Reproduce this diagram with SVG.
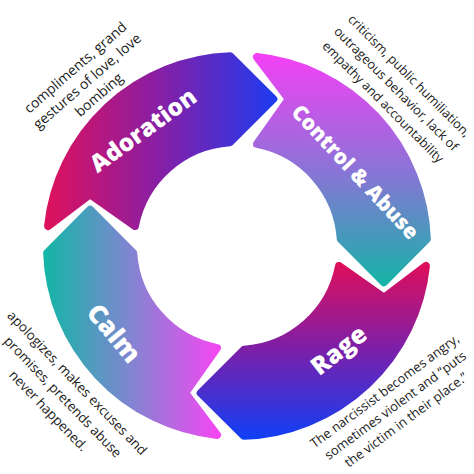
<svg xmlns="http://www.w3.org/2000/svg" width="474" height="474" viewBox="0 0 474 474">
<style>
.seg{stroke-width:8;stroke-linejoin:round}
.lbl{font-family:"Open Sans","Liberation Sans",sans-serif;font-weight:800;fill:#fff;text-anchor:middle}
.note{font-family:"Open Sans","Liberation Sans",sans-serif;font-size:13.4px;fill:#1a1a1a;text-anchor:middle}
</style>
<defs>
<linearGradient id="gAdo" gradientUnits="userSpaceOnUse" x1="42" y1="0" x2="280" y2="0">
<stop offset="0" stop-color="#e0115a"/><stop offset="0.5" stop-color="#861fa6"/><stop offset="1" stop-color="#1a3cf2"/>
</linearGradient>
<linearGradient id="gCtl" gradientUnits="userSpaceOnUse" x1="0" y1="52" x2="0" y2="290">
<stop offset="0" stop-color="#f63ff6"/><stop offset="0.5" stop-color="#8a74d6"/><stop offset="1" stop-color="#10b7a4"/>
</linearGradient>
<linearGradient id="gRage" gradientUnits="userSpaceOnUse" x1="0" y1="262" x2="0" y2="440">
<stop offset="0" stop-color="#e00e5a"/><stop offset="0.5" stop-color="#7a20aa"/><stop offset="1" stop-color="#0f3ff6"/>
</linearGradient>
<linearGradient id="gCalm" gradientUnits="userSpaceOnUse" x1="42" y1="0" x2="222" y2="0">
<stop offset="0" stop-color="#10b7a5"/><stop offset="0.5" stop-color="#8384d2"/><stop offset="1" stop-color="#f845f3"/>
</linearGradient>
</defs>
<rect width="474" height="474" fill="#fff"/>
<g id="adoration">
<path class="seg" fill="url(#gAdo)" stroke="url(#gAdo)" d="M48.06,226 A190,190 0 0 1 230,56.13 L273.3,99 L230,142.24 A104,104 0 0 0 134.94,226 L90,194.2 Z"/>
<text class="lbl" font-size="24" transform="translate(148,137) rotate(-36)">Adoration</text>
</g>
<g id="control-abuse">
<path class="seg" fill="url(#gCtl)" stroke="url(#gCtl)" d="M257,57.06 A190,190 0 0 1 426.87,239 L384,282.3 L340.76,239 A104,104 0 0 0 257,143.94 L288.8,99 Z"/>
<text class="lbl" font-size="21" transform="translate(350,177) rotate(47)">Control &amp; Abuse</text>
</g>
<g id="rage">
<path class="seg" fill="url(#gRage)" stroke="url(#gRage)" d="M425.94,266 A190,190 0 0 1 244,435.87 L200.7,393 L244,349.76 A104,104 0 0 0 339.06,266 L384,297.8 Z"/>
<text class="lbl" font-size="25" transform="translate(344,357) rotate(-38)">Rage</text>
</g>
<g id="calm">
<path class="seg" fill="url(#gCalm)" stroke="url(#gCalm)" d="M217,434.94 A190,190 0 0 1 47.13,253 L90,209.7 L133.24,253 A104,104 0 0 0 217,348.06 L185.2,393 Z"/>
<text class="lbl" font-size="26" transform="translate(107,339) rotate(50)">Calm</text>
</g>
<g id="note-adoration" class="note" transform="translate(90.3,84.8) rotate(-41)" style="font-size:14px">
<text x="0" y="-18">compliments, grand</text>
<text x="0" y="0">gestures of love, love</text>
<text x="0" y="18">bombing</text>
</g>
<g id="note-control" class="note" transform="translate(393,92) rotate(45)" style="font-size:12.8px">
<text x="0" y="-18.5">criticism, public humiliation,</text>
<text x="0" y="0">outrageous behavior, lack of</text>
<text x="0" y="18.5">empathy and accountability</text>
</g>
<g id="note-calm" class="note" transform="translate(59.5,400) rotate(46)">
<text x="0" y="-20">apologizes, makes excuses and</text>
<text x="0" y="0">promises, pretends abuse</text>
<text x="0" y="20">never happened.</text>
</g>
<g id="note-rage" class="note" transform="translate(398,409) rotate(-36.5)" style="font-size:13px">
<text x="0" y="-18">The narcissist becomes angry,</text>
<text x="0" y="0">sometimes violent and “puts</text>
<text x="0" y="18">the victim in their place.”</text>
</g>
<g id="connectors"/>
</svg>
